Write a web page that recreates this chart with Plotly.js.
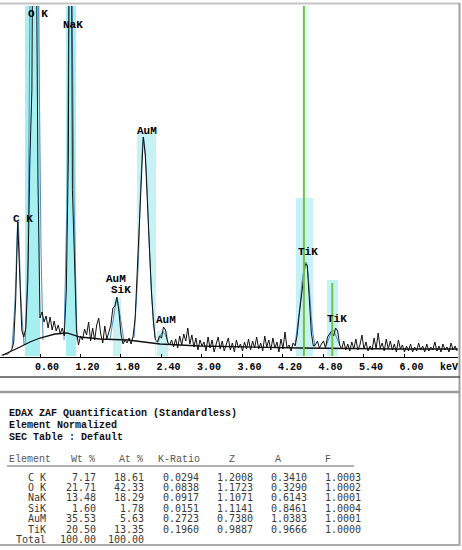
<!DOCTYPE html>
<html><head><meta charset="utf-8">
<script src="https://cdn.plot.ly/plotly-3.0.1.min.js"></script>
<style>html,body{margin:0;padding:0;background:#fff;}#chart{width:462px;height:550px;}</style>
</head><body><div id="chart"></div>
<script>
// ---- spectrum (channel calibration + counts) ----
const startKeV = 0.03;
const keVPerChannel = 0.03;
const counts = [3,3,6,6,12,18,39,168,402,243,
78,57,84,228,588,800,1968,1400,528,114,
132,102,120,84,117,78,105,75,93,66,
84,60,198,600,2268,500,300,78,33,60,
48,81,63,102,45,84,48,93,114,66,
39,90,51,69,93,144,150,177,132,66,
36,48,39,54,36,60,114,252,384,564,
657,603,483,333,198,102,48,42,60,54,
87,78,42,33,48,27,51,24,60,33,
66,45,84,36,63,27,54,18,48,30,
42,15,57,24,48,12,36,57,21,45,
15,33,54,18,39,12,48,24,36,15,
42,21,51,18,45,24,57,21,39,15,
60,27,48,18,54,24,42,12,51,21,
72,24,33,15,39,30,63,123,174,219,
276,273,168,69,30,33,45,24,36,45,
24,57,66,75,60,84,75,33,21,45,
18,36,15,42,21,51,18,33,63,21,
42,15,30,18,54,21,69,24,39,15,
51,21,45,18,36,12,48,21,33,12,
30,15,36,12,27,15,39,18,30,12,
36,15,27,18,42,15,30,12,36,18,
27,12,39,18,30,15];

// background (bremsstrahlung) curve
const bgKeV = [0.052,0.156,0.304,0.452,0.600,0.822,1.0,1.193,1.489,1.904,2.007,2.156,2.378,2.97,3.56,4.45,5.93,6.79];
const bgCounts = [3,12,27,42,54,66,69,57,51,48,45,42,36,30,27,24,21,21];

// fitted peaks
const fitNames = ['C K','O K','NaK','SiK','AuM','AuM2','TiK','TiKb'];
const fitKeV = [
  [0.185,0.230,0.274,0.319,0.363],
  [0.378,0.422,0.452,0.519,0.578,0.615,0.644],
  [0.956,1.0,1.029,1.052,1.074,1.104,1.148],
  [1.637,1.696,1.741,1.785,1.844],
  [1.993,2.052,2.096,2.133,2.170,2.215,2.259,2.304],
  [2.348,2.422,2.496],
  [4.378,4.452,4.496,4.541,4.585,4.630,4.674],
  [4.837,4.896,4.941,4.985,5.044]
];
const fitCounts = [
  [24,168,402,168,33],
  [33,288,1068,2868,1068,318,48],
  [48,468,1068,2568,1068,468,48],
  [48,123,168,123,42],
  [54,258,528,654,573,348,168,54],
  [42,72,42],
  [33,153,243,282,213,93,27],
  [30,60,78,60,30]
];

// region-of-interest bands
const bandCenter = [0.489,1.059,1.741,2.178,2.414,4.555,4.518,4.933];
const bandWidth  = [0.222,0.148,0.12,0.28,0.163,0.07,0.252,0.163];
const bandHeight = [1100,1100,174,669,75,1100,474,228];

// KLM marker lines (Ti)
const markerKeV = [4.51,4.93];
const markerTop = [1100,219];

// axis ticks
const tickKeV = [0.6,1.2,1.8,2.4,3.0,3.6,4.2,4.8,5.4,6.0];
const tickText = ['0.60','1.20','1.80','2.40','3.00','3.60','4.20','4.80','5.40','6.00'];

// peak labels
const peakLabels = ['C K','O K','NaK','AuM','AuM','SiK','AuM','TiK','TiK'];

// quantification table
const headerLines = ['EDAX ZAF Quantification (Standardless)','Element Normalized','SEC Table : Default'];
const tableHeaders = ['Element','Wt %','At %','K-Ratio','Z','A','F'];
const elements = ['C K','O K','NaK','SiK','AuM','TiK','Total'];
const wtPct = [7.17,21.71,13.48,1.60,35.53,20.50,100.00];
const atPct = [18.61,42.33,18.29,1.78,5.63,13.35,100.00];
const kRatio = [0.0294,0.0838,0.0917,0.0151,0.2723,0.1960];
const zFac = [1.2008,1.1723,1.1071,1.1141,0.7380,0.9887];
const aFac = [0.3410,0.3290,0.6143,0.8461,1.0383,0.9666];
const fFac = [1.0003,1.0002,1.0001,1.0004,1.0001,1.0000];

// ---- drawing ----
const W = 462, H = 550;
const fx = p => p / W;
const fy = p => 1 - p / H;

const bandColors = ['#a6f0f2','#a6f0f2','#c6f2f4','#c6f2f4','#c6f2f4','#e6fafa','#c6f2f4','#c6f2f4'];
const fitShape = ['spline','linear','linear','spline','spline','spline','spline','spline'];
const fitWhite = [false,false,false,false,true,false,false,false];

const chanKeV = counts.map((_, i) => startKeV + i * keVPerChannel);

const traces = [];
traces.push({type:'bar', x:bandCenter, y:bandHeight, width:bandWidth, base:0,
  marker:{color:bandColors, line:{width:0}}, hoverinfo:'skip'});
fitKeV.forEach((xs, k) => traces.push({type:'scatter', mode:'lines', x:xs, y:fitCounts[k],
  name:fitNames[k], line:{color:'#4a8fc4', width:1, shape:fitShape[k]},
  fill: fitWhite[k] ? 'tozeroy' : 'none', fillcolor:'#ffffff', hoverinfo:'skip'}));
traces.push({type:'scatter', mode:'lines', x:bgKeV, y:bgCounts, line:{color:'#111', width:1.3}, hoverinfo:'skip'});
traces.push({type:'scatter', mode:'lines', x:chanKeV, y:counts, line:{color:'#111', width:1}, hoverinfo:'skip'});
markerKeV.forEach((e, k) => traces.push({type:'scatter', mode:'lines', x:[e,e], y:[0, markerTop[k]],
  line:{color:'#72c04e', width:2}, hoverinfo:'skip'}));

const labelPx = [[23,219],[38,14],[73,25],[147,131],[115.5,279],[120.5,290],[166,320],[308,252],[337,319]];
const labelFont = {family:'Liberation Mono', size:11, color:'#000', weight:'bold'};
const annotations = [];
peakLabels.forEach((t, k) => annotations.push({xref:'paper', yref:'paper', x:fx(labelPx[k][0]), y:fy(labelPx[k][1]),
  xanchor:'center', yanchor:'middle', text:t, showarrow:false, font:labelFont}));
annotations.push({xref:'paper', yref:'paper', x:fx(449), y:fy(367), xanchor:'center', yanchor:'middle',
  text:'keV', showarrow:false, font:{family:'Liberation Mono', size:10, color:'#000', weight:'bold'}});

const boldFont = {family:'Liberation Mono', size:10, color:'#111', weight:'bold'};
const headerY = [413,425,437];
headerLines.forEach((t, k) => annotations.push({xref:'paper', yref:'paper', x:fx(7), y:fy(headerY[k]),
  xanchor:'left', yanchor:'middle', text:t, showarrow:false, font:boldFont}));

const hdrFont = {family:'Liberation Mono', size:10, color:'#555'};
const hdrPos = [[7,'left'],[97,'right'],[145,'right'],[202,'right'],[232,'center'],[278,'center'],[328,'center']];
tableHeaders.forEach((t, j) => annotations.push({xref:'paper', yref:'paper', x:fx(hdrPos[j][0]), y:fy(460),
  xanchor:hdrPos[j][1], yanchor:'middle', text:t, showarrow:false, font:hdrFont}));

const cellFont = {family:'DejaVu Sans Mono', size:10, color:'#3a3a3a'};
const colRight = [48,98,146,201,255,309,363];
elements.forEach((el, r) => {
  const y = fy(477 + 10.4 * r);
  const cells = [el, wtPct[r].toFixed(2), atPct[r].toFixed(2),
    r < kRatio.length ? kRatio[r].toFixed(4) : '',
    r < zFac.length ? zFac[r].toFixed(4) : '',
    r < aFac.length ? aFac[r].toFixed(4) : '',
    r < fFac.length ? fFac[r].toFixed(4) : ''];
  cells.forEach((c, j) => { if (c) annotations.push({xref:'paper', yref:'paper', x:fx(colRight[j]), y:y,
    xanchor:'right', yanchor:'middle', text:c, showarrow:false, font:cellFont}); });
});

const ln = (x0,y0,x1,y1,color,width) => ({type:'line', xref:'paper', yref:'paper',
  x0:fx(x0), y0:fy(y0), x1:fx(x1), y1:fy(y1), line:{color, width}});
const shapes = [
  ln(0,3.5,460,3.5,'#c4c4c4',2),
  ln(459.5,3,459.5,546,'#a0a0a0',2),
  ln(0,377,460,377,'#505050',1.5),
  ln(0,392,460,392,'#9a9a9a',2.5),
  ln(0,545,460,545,'#aaaaaa',2),
  ln(7,466,354,466,'#666666',1)
];

const layout = {
  width:W, height:H, margin:{l:0,r:0,t:0,b:0,pad:0},
  paper_bgcolor:'#fff', plot_bgcolor:'#fff', showlegend:false, barmode:'overlay',
  xaxis:{domain:[0, fx(458)], range:[0.0074, 6.793], tickvals:tickKeV, ticktext:tickText,
    ticks:'inside', ticklen:3, tickcolor:'#000', tickwidth:1, showline:true, linecolor:'#000', linewidth:1,
    showgrid:false, zeroline:false, ticklabelshift:7,
    tickfont:{family:'Liberation Mono', size:10, color:'#000', weight:'bold'}, fixedrange:true},
  yaxis:{domain:[fy(357), fy(6)], range:[-3, 1050], visible:false, fixedrange:true},
  shapes, annotations
};
Plotly.newPlot('chart', traces, layout, {displayModeBar:false, staticPlot:true});
</script></body></html>
